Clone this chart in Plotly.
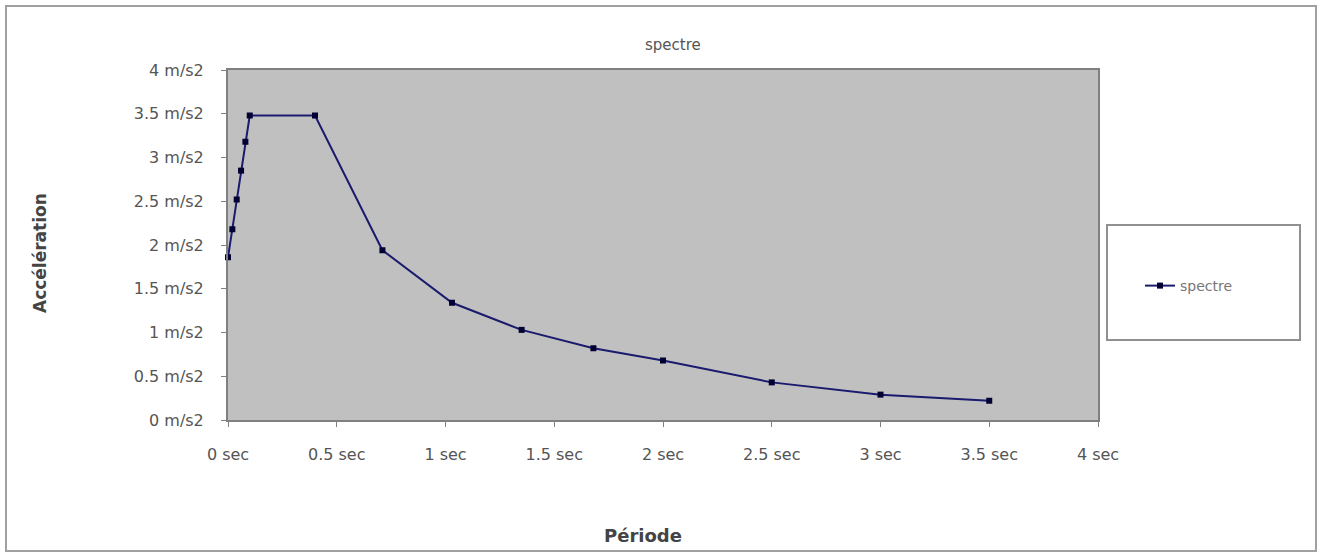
import plotly.graph_objects as go

periods = [0.0, 0.02, 0.04, 0.06, 0.08, 0.10, 0.40, 0.71, 1.03, 1.35, 1.68, 2.00, 2.50, 3.00, 3.50]
accels = [1.86, 2.18, 2.52, 2.85, 3.18, 3.48, 3.48, 1.94, 1.34, 1.03, 0.82, 0.68, 0.43, 0.29, 0.22]
x_ticks = [0, 0.5, 1, 1.5, 2, 2.5, 3, 3.5, 4]
x_labels = ["0 sec", "0.5 sec", "1 sec", "1.5 sec", "2 sec", "2.5 sec", "3 sec", "3.5 sec", "4 sec"]
y_ticks = [0, 0.5, 1, 1.5, 2, 2.5, 3, 3.5, 4]
y_labels = ["0 m/s2", "0.5 m/s2", "1 m/s2", "1.5 m/s2", "2 m/s2", "2.5 m/s2", "3 m/s2", "3.5 m/s2", "4 m/s2"]

FONT = "DejaVu Sans, Arial, sans-serif"
W, H = 1322, 557
L, R, T, B = 228, 1098, 70, 420
pw, ph = R - L, B - T

def px(x):
    return (x - L) / pw

def py(y):
    return (B - y) / ph

fig = go.Figure()
fig.add_trace(go.Scatter(
    x=periods, y=accels, mode="lines+markers", name="spectre",
    line=dict(color="#1a1a6e", width=2),
    marker=dict(symbol="square", size=6, color="#000033"),
    cliponaxis=False,
))

fig.update_layout(
    width=W, height=H,
    margin=dict(l=L, r=W - R, t=T, b=H - B),
    paper_bgcolor="white",
    plot_bgcolor="#c0c0c0",
    font=dict(family=FONT, size=15, color="#555555"),
    showlegend=True,
    legend=dict(x=px(1140), y=py(286), xanchor="left", yanchor="middle",
                bgcolor="rgba(0,0,0,0)", font=dict(size=14, color="#777777")),
    xaxis=dict(range=[0, 4], tickvals=x_ticks, ticktext=x_labels,
               showgrid=False, zeroline=False, showline=True, linecolor="#808080",
               linewidth=2, mirror=True, ticks="outside", ticklen=5,
               ticklabelstandoff=14,
               tickcolor="#808080", tickfont=dict(size=16, color="#555555")),
    yaxis=dict(range=[0, 4], tickvals=y_ticks, ticktext=y_labels,
               showgrid=False, zeroline=False, showline=True, linecolor="#808080",
               linewidth=2, mirror=True, ticks="outside", ticklen=5,
               ticklabelstandoff=14,
               tickcolor="#808080", tickfont=dict(size=16, color="#555555")),
    shapes=[
        dict(type="rect", xref="paper", yref="paper",
             x0=px(6), x1=px(1316), y0=py(551), y1=py(6),
             line=dict(color="#a0a0a0", width=2), layer="below"),
        dict(type="rect", xref="paper", yref="paper",
             x0=px(1107), x1=px(1300), y0=py(340), y1=py(225),
             line=dict(color="#909090", width=2), layer="below"),
    ],
    annotations=[
        dict(text="spectre", x=px(673), y=py(45), xref="paper", yref="paper",
             xanchor="center", yanchor="middle",
             showarrow=False, font=dict(size=15, color="#555555")),
        dict(text="<b>Période</b>", x=px(643), y=py(535), xref="paper", yref="paper",
             xanchor="center", yanchor="middle",
             showarrow=False, font=dict(size=18, color="#444444")),
        dict(text="<b>Accélération</b>", x=px(40), y=py(253), xref="paper", yref="paper",
             xanchor="center", yanchor="middle",
             showarrow=False, textangle=-90, font=dict(size=17, color="#444444")),
    ],
)

fig.write_html("out.html")
